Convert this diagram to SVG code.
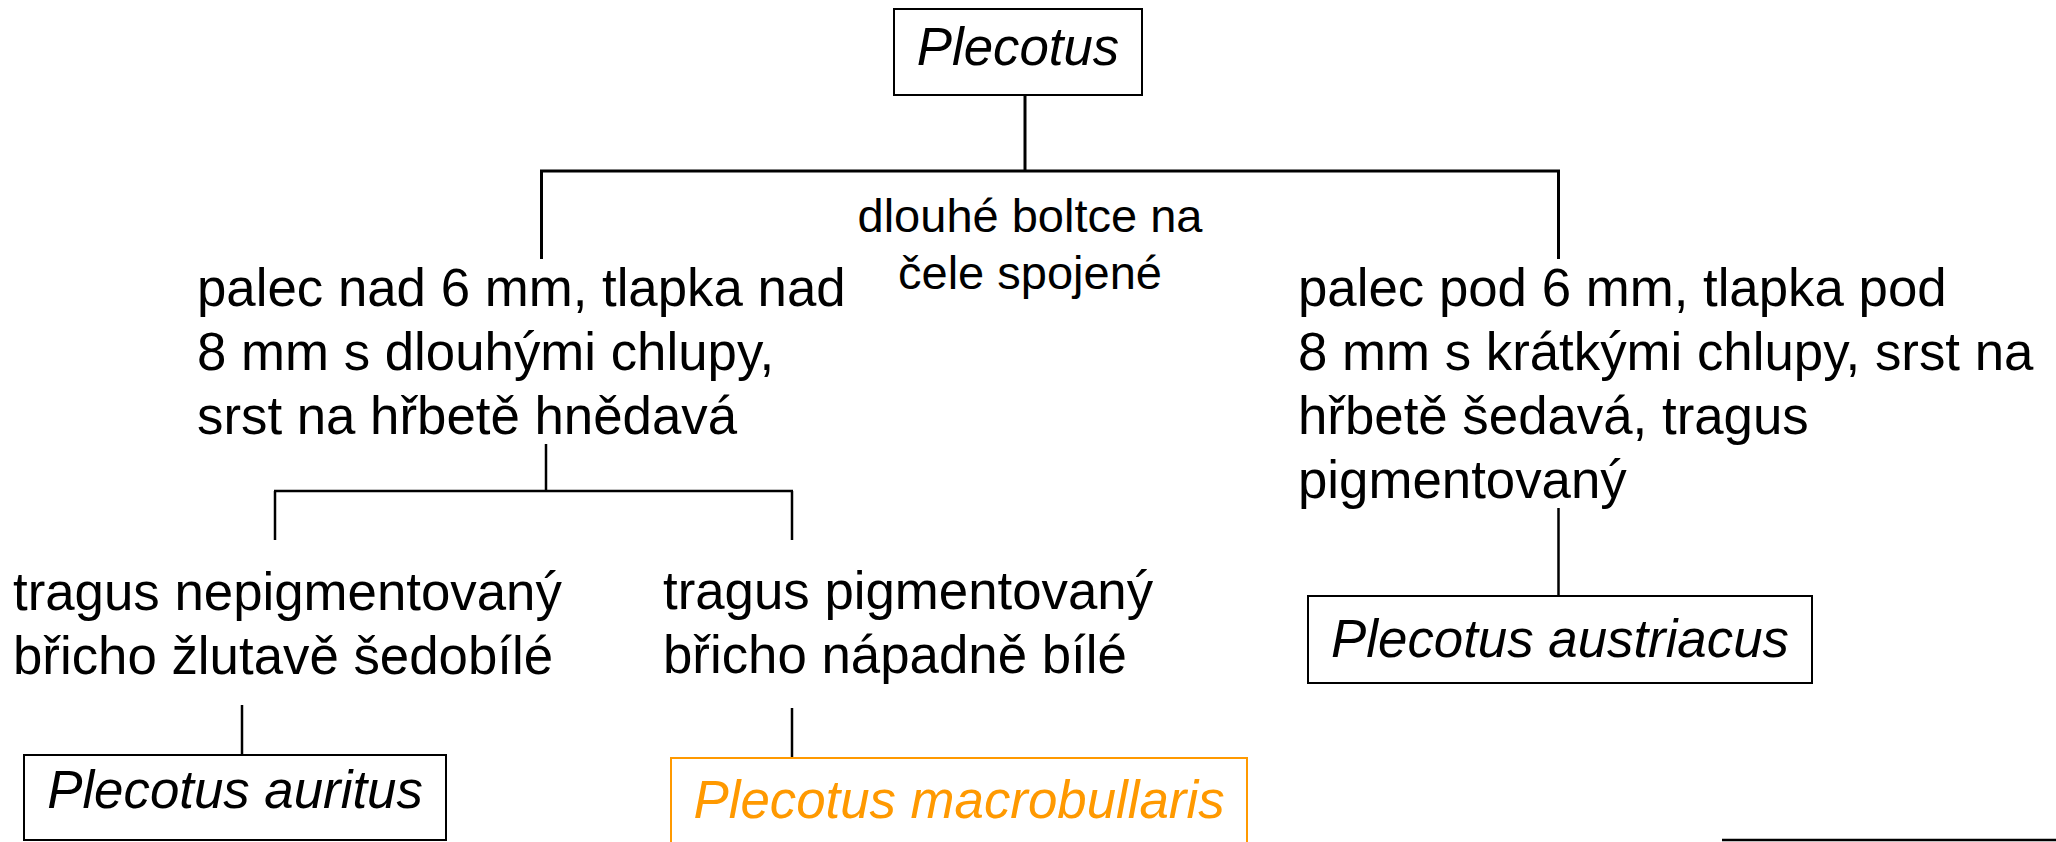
<svg xmlns="http://www.w3.org/2000/svg" width="2056" height="842" viewBox="0 0 2056 842">
<style>
text{font-family:"Liberation Sans",Arial,sans-serif;fill:#000}
.t{font-size:52.8px}
.lab{font-size:47px;text-anchor:middle}
.sp{font-size:52.8px;font-style:italic;text-anchor:middle}
.box{fill:#fff;stroke:#000;stroke-width:2}
.obox{fill:#fff;stroke:#FF9900;stroke-width:2}
.c3{stroke:#000;stroke-width:3;fill:none}
.c2{stroke:#000;stroke-width:2.5;fill:none}
</style>
<rect x="0" y="0" width="2056" height="842" fill="#fff"/>
<g id="connectors">
<line class="c3" x1="1025" y1="95" x2="1025" y2="171"/>
<line class="c3" x1="540" y1="171" x2="1560" y2="171"/>
<line class="c3" x1="541.5" y1="171" x2="541.5" y2="259"/>
<line class="c3" x1="1558.5" y1="171" x2="1558.5" y2="259"/>
<line class="c2" x1="546" y1="444" x2="546" y2="491"/>
<line class="c2" x1="274" y1="491" x2="793" y2="491"/>
<line class="c2" x1="275" y1="491" x2="275" y2="540"/>
<line class="c2" x1="792" y1="491" x2="792" y2="540"/>
<line class="c2" x1="242" y1="705" x2="242" y2="755"/>
<line class="c2" x1="792" y1="708" x2="792" y2="758"/>
<line class="c2" x1="1558.5" y1="508" x2="1558.5" y2="603"/>
</g>
<g id="root">
<rect class="box" x="894" y="9" width="248" height="86"/>
<text class="sp" x="1018" y="65">Plecotus</text>
</g>
<g id="label-ears">
<text class="lab" x="1030" y="232">dlouhé boltce na</text>
<text class="lab" x="1030" y="289">čele spojené</text>
</g>
<g id="crit-left">
<text class="t" x="197" y="306">palec nad 6 mm, tlapka nad</text>
<text class="t" x="197" y="370">8 mm s dlouhými chlupy,</text>
<text class="t" x="197" y="434">srst na hřbetě hnědavá</text>
</g>
<g id="crit-right">
<text class="t" x="1298" y="306">palec pod 6 mm, tlapka pod</text>
<text class="t" x="1298" y="370">8 mm s krátkými chlupy, srst na</text>
<text class="t" x="1298" y="434">hřbetě šedavá, tragus</text>
<text class="t" x="1298" y="498">pigmentovaný</text>
</g>
<g id="crit-left-left">
<text class="t" x="13" y="610">tragus nepigmentovaný</text>
<text class="t" x="13" y="674">břicho žlutavě šedobílé</text>
</g>
<g id="crit-left-right">
<text class="t" x="663" y="609">tragus pigmentovaný</text>
<text class="t" x="663" y="673">břicho nápadně bílé</text>
</g>
<g id="auritus">
<rect class="box" x="24" y="755" width="422" height="85"/>
<text class="sp" x="235" y="808">Plecotus auritus</text>
</g>
<g id="macrobullaris">
<rect class="obox" x="671" y="758" width="576" height="100"/>
<text class="sp" x="959" y="818" style="fill:#FF9900">Plecotus macrobullaris</text>
</g>
<g id="austriacus">
<rect class="box" x="1308" y="596" width="504" height="87"/>
<text class="sp" x="1560" y="657">Plecotus austriacus</text>
</g>
<g id="partial-box">
<line x1="1722" y1="840" x2="2056" y2="840" stroke="#000" stroke-width="2.5"/>
</g>
</svg>
